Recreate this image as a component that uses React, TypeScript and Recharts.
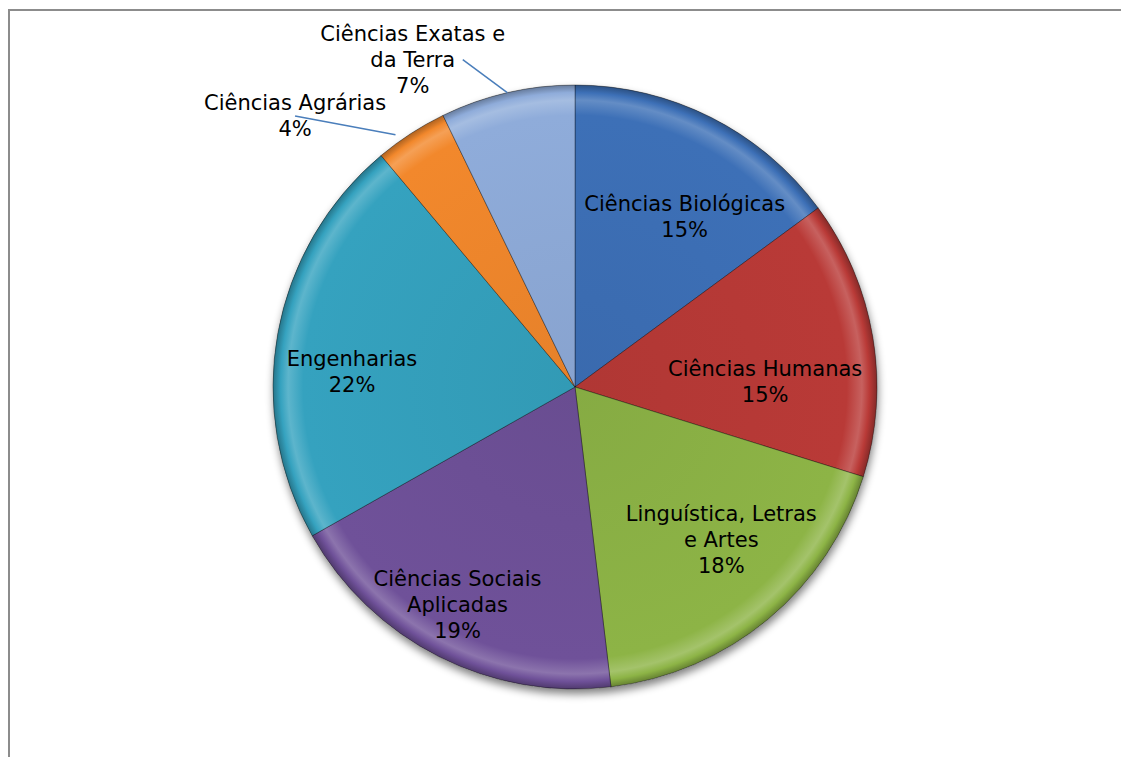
import { Cell, Pie, PieChart } from "recharts";

const categories = [
  "Ciências Biológicas",
  "Ciências Humanas",
  "Linguística, Letras e Artes",
  "Ciências Sociais Aplicadas",
  "Engenharias",
  "Ciências Agrárias",
  "Ciências Exatas e da Terra",
];
const shares = [14.9, 14.9, 18.3, 18.7, 22.1, 3.9, 7.2];
const colors = ["#3D70B7", "#B93A37", "#8DB446", "#6F5199", "#35A2BF", "#F2882C", "#8FACDA"];

const chartData = categories.map((name, i) => ({ name, value: shares[i] }));

// label placement: radius factor, angle shift (deg), outside labels get a leader line
const labelLayout = [
  { r: 0.67, shift: 6 },
  { r: 0.63, shift: 8 },
  { r: 0.7, shift: -4 },
  { r: 0.82, shift: 1.5 },
  { r: 0.74, shift: -6.5 },
  { r: 1.29, shift: -13, outside: true, lineDx: 0, endR: 1.025, endShift: -2.5 },
  { r: 1.21, shift: -13.4, outside: true, lineDx: 50, endR: 1.0, endShift: 0 },
];

const RAD = Math.PI / 180;
const CX = 567;
const CY = 379;
const R = 302;

const wrap = (text: string, max: number) => {
  const words = text.split(" ");
  const lines: string[] = [];
  let cur = "";
  words.forEach((w) => {
    const next = cur ? cur + " " + w : w;
    if (next.length > max && cur) {
      lines.push(cur);
      cur = w;
    } else {
      cur = next;
    }
  });
  if (cur) lines.push(cur);
  return lines;
};

const lighten = (hex: string, amt: number) => {
  const n = parseInt(hex.slice(1), 16);
  const ch = [(n >> 16) & 255, (n >> 8) & 255, n & 255].map((c) =>
    Math.round(amt >= 0 ? c + (255 - c) * amt : c * (1 + amt))
  );
  return `rgb(${ch.join(",")})`;
};

const renderLabel = (props: any) => {
  const { cx, cy, midAngle, outerRadius, percent, index, name } = props;
  const lay: any = labelLayout[index];
  const clock = 90 - midAngle;
  const a = (clock + lay.shift) * RAD;
  const x = cx + lay.r * outerRadius * Math.sin(a);
  const y = cy - lay.r * outerRadius * Math.cos(a);
  const lines = [...wrap(name, 19), `${Math.round(percent * 100)}%`];
  const lh = 26;
  let leader = null;
  if (lay.outside) {
    const m = (clock + lay.endShift) * RAD;
    const ex = cx + outerRadius * lay.endR * Math.sin(m);
    const ey = cy - outerRadius * lay.endR * Math.cos(m);
    leader = <line x1={x + lay.lineDx} y1={y} x2={ex} y2={ey} stroke="#4A7EBB" strokeWidth={1.5} />;
  }
  return (
    <g key={`lbl-${index}`}>
      {leader}
      <text
        x={x}
        y={y}
        textAnchor="middle"
        fontFamily="'DejaVu Sans', Verdana, sans-serif"
        fontSize={21}
        fill="#000"
      >
        {lines.map((ln, i) => (
          <tspan key={i} x={x} y={y + (i - (lines.length - 1) / 2) * lh} dominantBaseline="central">
            {ln}
          </tspan>
        ))}
      </text>
    </g>
  );
};

export default function App() {
  return (
    <div style={{ position: "relative", width: 1121, height: 749, overflow: "hidden" }}>
      <div
        style={{
          position: "absolute",
          left: 0,
          top: 1,
          width: 1200,
          height: 800,
          borderTop: "2px solid #8c8c8c",
          borderLeft: "2px solid #8c8c8c",
        }}
      />
      <div style={{ position: "absolute", left: 0, top: 0 }}>
        <PieChart width={1121} height={749} margin={{ top: 0, right: 0, bottom: 0, left: 0 }}>
          <defs>
            <filter id="pieShadow" x="-10%" y="-10%" width="120%" height="125%">
              <feGaussianBlur in="SourceAlpha" stdDeviation="4" />
              <feOffset dx="1" dy="5" result="off" />
              <feComponentTransfer>
                <feFuncA type="linear" slope="0.5" />
              </feComponentTransfer>
              <feMerge>
                <feMergeNode />
                <feMergeNode in="SourceGraphic" />
              </feMerge>
            </filter>
            {colors.map((c, i) => (
              <radialGradient key={i} id={`slice${i}`} gradientUnits="userSpaceOnUse" cx={CX} cy={CY} r={R}>
                <stop offset="0" stopColor={lighten(c, -0.05)} />
                <stop offset="0.9" stopColor={c} />
                <stop offset="0.95" stopColor={lighten(c, 0.2)} />
                <stop offset="0.975" stopColor={c} />
                <stop offset="1" stopColor={lighten(c, -0.28)} />
              </radialGradient>
            ))}
          </defs>
          <Pie
            data={[{ name: "bg", value: 1 }]}
            dataKey="value"
            cx={CX}
            cy={CY}
            outerRadius={R}
            startAngle={90}
            endAngle={-270}
            stroke="none"
            fill="#888"
            isAnimationActive={false}
            style={{ filter: "url(#pieShadow)" }}
          />
          <Pie
            data={chartData}
            dataKey="value"
            nameKey="name"
            cx={CX}
            cy={CY}
            outerRadius={R}
            startAngle={90}
            endAngle={-270}
            label={renderLabel}
            labelLine={false}
            isAnimationActive={false}
          >
            {chartData.map((d, i) => (
              <Cell key={d.name} fill={`url(#slice${i})`} stroke="rgba(0,0,0,0.35)" strokeWidth={1} />
            ))}
          </Pie>
        </PieChart>
      </div>
    </div>
  );
}
